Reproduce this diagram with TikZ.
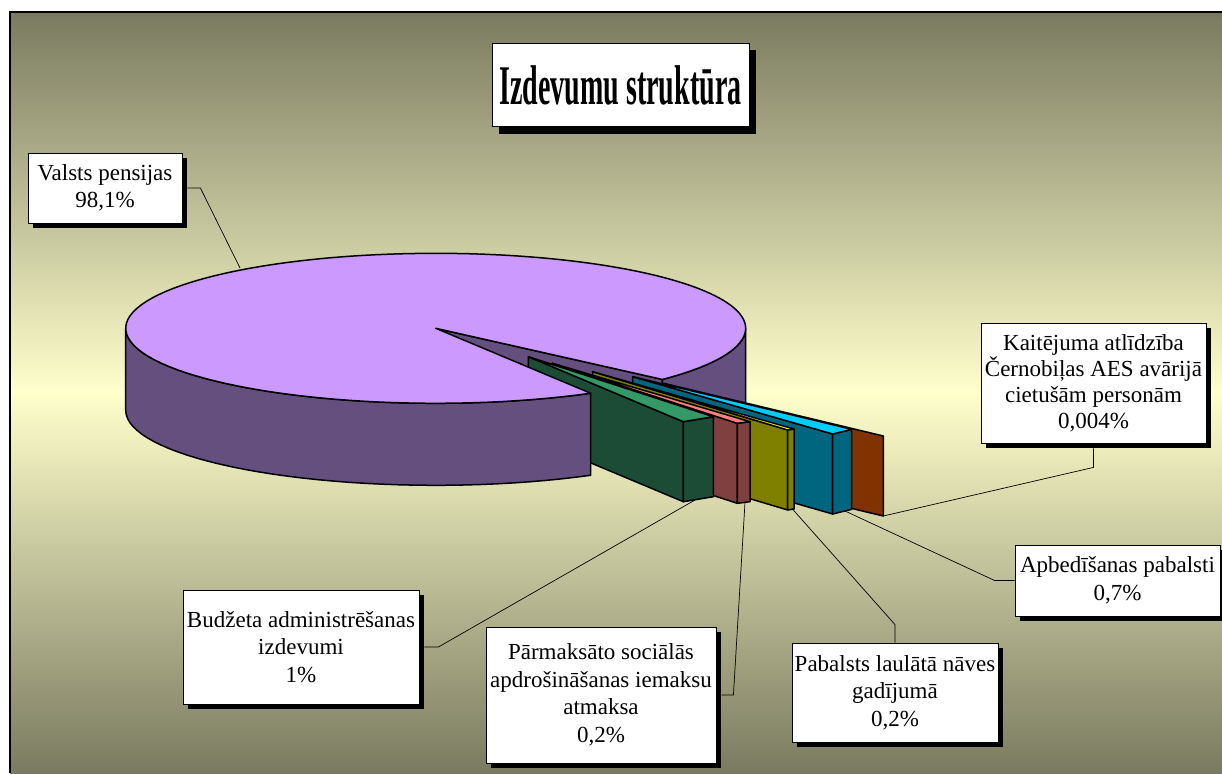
\documentclass[tikz,border=0pt]{standalone}
\usepackage{fontspec}
\setmainfont{Liberation Serif}
\usepackage{graphicx}
\usetikzlibrary{shadows}
\definecolor{bgdark}{RGB}{122,122,96}
\definecolor{bglight}{RGB}{255,255,204}
\definecolor{pietop}{RGB}{204,153,255}
\definecolor{pieside}{RGB}{100,79,127}
\definecolor{budtop}{RGB}{51,153,102}
\definecolor{budside}{RGB}{28,76,54}
\definecolor{partop}{RGB}{255,128,128}
\definecolor{parside}{RGB}{128,64,64}
\definecolor{laultop}{RGB}{255,255,0}
\definecolor{laulside}{RGB}{128,128,0}
\definecolor{apbtop}{RGB}{0,204,255}
\definecolor{apbside}{RGB}{0,102,128}
\definecolor{kaiside}{RGB}{128,51,0}
\begin{document}
\begin{tikzpicture}[x=1pt,y=-1pt,
    face/.style={draw=black,line width=1.5pt,line join=round},
    leader/.style={draw=black,line width=0.7pt},
    lbl/.style={draw=black,fill=white,line width=0.8pt,inner sep=0pt,align=center,
      font=\fontsize{23}{27.5}\selectfont,
      drop shadow={shadow xshift=#1,shadow yshift=-#1,fill=black,opacity=1}},
    lbl/.default=5pt]
    \useasboundingbox (0,0) rectangle (1222,773);
    \fill[white] (0,0) rectangle (1222,773);
    \shade[top color=bgdark,bottom color=bglight] (10,12) rectangle (1222,392);
    \shade[top color=bglight,bottom color=bgdark] (10,392) rectangle (1222,773);
    \draw[line width=1.2pt] (10,773) -- (10,12) -- (1222,12);

    \filldraw[fill=pieside,face] (435.7,328.3) -- ({435.7+310*cos(43)},{328.3+75*sin(43)}) -- ++(0,82) -- (435.7,410.3) -- cycle;
    \filldraw[fill=pieside,face] plot[domain=0:43,samples=20] ({435.7+310*cos(\x)},{328.3+75*sin(\x)})
      -- plot[domain=43:0,samples=20] ({435.7+310*cos(\x)},{410.3+75*sin(\x)}) -- cycle;

    \filldraw[fill=kaiside,face] (663.3,383.2) -- (883.3,436) -- (883.3,516) -- (663.3,463.2) -- cycle;

    \filldraw[fill=apbside,face] (632.7,376.7) -- (832.7,434) -- (832.7,514) -- (632.7,456.7) -- cycle;
    \filldraw[fill=apbside,face] (832.7,434) -- (851.7,429.3) -- (851.7,509.3) -- (832.7,514) -- cycle;
    \filldraw[fill=apbtop,face] (632.7,376.7) -- (832.7,434) -- (851.7,429.3) -- cycle;

    \filldraw[fill=laulside,face] (592.6,371.7) -- (787.7,430) -- (787.7,510) -- (592.6,451.7) -- cycle;
    \filldraw[fill=laulside,face] (787.7,430) -- (794,429) -- (794,509) -- (787.7,510) -- cycle;
    \filldraw[fill=laultop,face] (592.6,371.7) -- (787.7,430) -- (794,429) -- cycle;

    \filldraw[fill=parside,face] (552.3,363.3) -- (737.3,423.3) -- (737.3,503.3) -- (552.3,443.3) -- cycle;
    \filldraw[fill=parside,face] (737.3,423.3) -- (750,421.7) -- (750,501.7) -- (737.3,503.3) -- cycle;
    \filldraw[fill=partop,face] (552.3,363.3) -- (737.3,423.3) -- (750,421.7) -- cycle;

    \filldraw[fill=budside,face] (528.3,356.7) -- (683.3,421.7) -- (683.3,501.7) -- (528.3,436.7) -- cycle;
    \filldraw[fill=budside,face] (683.3,421.7) -- (713.3,416.7) -- (713.3,496.7) -- (683.3,501.7) -- cycle;
    \filldraw[fill=budtop,face] (528.3,356.7) -- (683.3,421.7) -- (713.3,416.7) -- cycle;

    \filldraw[fill=pieside,face] plot[domain=60:180,samples=40] ({435.7+310*cos(\x)},{328.3+75*sin(\x)})
      -- plot[domain=180:60,samples=40] ({435.7+310*cos(\x)},{410.3+75*sin(\x)}) -- cycle;
    \filldraw[fill=pietop,face] (435.7,328.3) -- plot[domain=60:403,samples=120] ({435.7+310*cos(\x)},{328.3+75*sin(\x)}) -- cycle;

    \coordinate (pv) at (240,268);
    \coordinate (pb) at (695,500);
    \coordinate (pp) at (745,502.5);
    \coordinate (pl) at (792,508.5);
    \coordinate (pa) at (845,511);
    \coordinate (pk) at (883.3,516);

    \node[lbl=7pt,minimum width=257pt,minimum height=83pt] (virsraksts) at (620.5,85)
      {\raisebox{-4pt}{\scalebox{0.5}[1]{\fontsize{56}{60}\selectfont\bfseries Izdevumu struktūra}}};
    \node[lbl,minimum width=154pt,minimum height=70pt] (valsts) at (105,188) {Valsts pensijas\\98,1\%};
    \node[lbl,minimum width=236pt,minimum height=114pt] (budzeta) at (301,647) {Budžeta administrēšanas\\izdevumi\\1\%};
    \node[lbl,minimum width=230pt,minimum height=136pt] (parmaksato) at (601,695) {Pārmaksāto sociālās\\apdrošināšanas iemaksu\\atmaksa\\0,2\%};
    \node[lbl,minimum width=206pt,minimum height=99pt] (pabalsts) at (895,692.5) {Pabalsts laulātā nāves\\gadījumā\\0,2\%};
    \node[lbl,minimum width=205pt,minimum height=71pt] (apbedisanas) at (1117.5,580.5) {Apbedīšanas pabalsti\\0,7\%};
    \node[lbl,minimum width=225pt,minimum height=120pt,font=\fontsize{23}{26}\selectfont] (kaitejuma) at (1093.5,383) {Kaitējuma atlīdzība\\Černobiļas AES avārijā\\cietušām personām\\0,004\%};

    \draw[leader] ([xshift=5pt]valsts.east) -- ++(13,0) -- (pv);
    \draw[leader] ([xshift=5pt]budzeta.east) -- ++(14,0) -- (pb);
    \draw[leader] ([xshift=5pt]parmaksato.east) -- ++(12,0) -- (pp);
    \draw[leader] (pabalsts.north) -- ++(0,-18) -- (pl);
    \draw[leader] (apbedisanas.west) -- ++(-20,0) -- (pa);
    \draw[leader] ([yshift=-5pt]kaitejuma.south) -- ++(0,19) -- (pk);
  \end{tikzpicture}
\end{document}
